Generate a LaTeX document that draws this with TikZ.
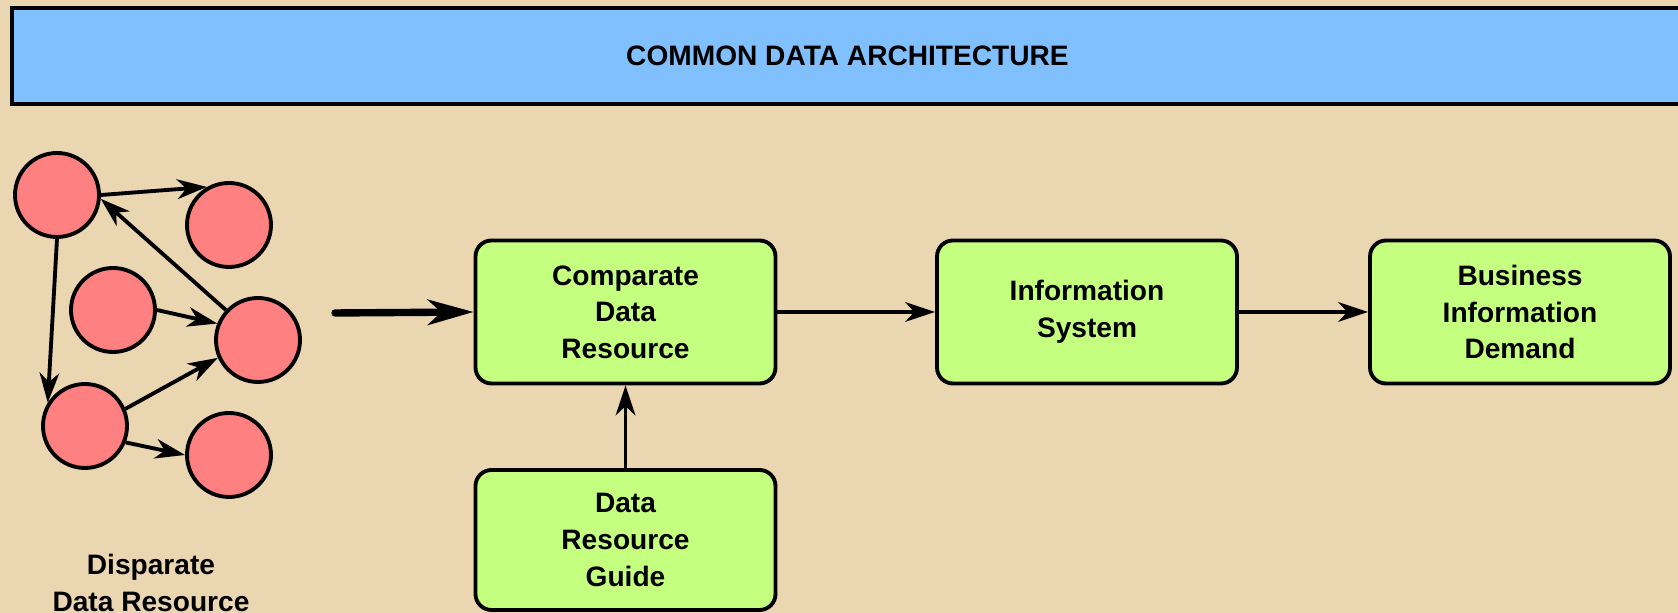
\documentclass[tikz,border=0pt]{standalone}
\usepackage{fontspec}
\setmainfont{Liberation Sans}
\usetikzlibrary{arrows.meta}

\definecolor{paper}{RGB}{234,215,178}
\definecolor{skyband}{RGB}{128,192,255}
\definecolor{rosy}{RGB}{255,128,128}
\definecolor{limey}{RGB}{196,255,128}

\begin{document}
\begin{tikzpicture}[
  txt/.style={font=\fontsize{8}{10.4}\selectfont\bfseries, align=center},
  blob/.style={circle, draw, line width=1.1pt, fill=rosy, minimum size=0.84cm, inner sep=0pt},
  stage/.style={txt, rectangle, rounded corners=0.16cm, draw, line width=1.1pt, fill=limey,
                minimum width=3.0cm, minimum height=1.43cm},
  link/.style={line width=1.1pt, -{Stealth[length=8.5pt,width=5.6pt,inset=2.6pt]}},
  biglink/.style={line width=2.1pt, line cap=round, -{Stealth[length=13pt,width=7.2pt,inset=3.8pt]}}
]
\useasboundingbox (0,0) rectangle (16.78,6.13);
\fill[paper] (0,0) rectangle (16.78,6.13);
\clip (0,0) rectangle (16.78,6.13);

% banner
\node[txt, draw, line width=1.1pt, fill=skyband, minimum width=16.71cm, minimum height=0.96cm]
  (band) at (8.475,5.57) {COMMON DATA ARCHITECTURE};

% disparate data
\node[blob] (c1) at (0.57,4.18) {};
\node[blob] (c2) at (2.29,3.88) {};
\node[blob] (c3) at (1.13,3.03) {};
\node[blob] (c4) at (2.58,2.73) {};
\node[blob] (c5) at (0.85,1.87) {};
\node[blob] (c6) at (2.29,1.58) {};

\draw[link] (c1.east) -- (c2.120);
\draw[link] (c4.137) -- (c1.-5);
\draw[link] (c1.south) -- (c5.148);
\draw[link] (c3.east) -- (c4.158);
\draw[link] (c5.23) -- (c4.204);
\draw[link] (c5.-22) -- (c6.west);

\node[txt] (disp) at (1.51,0.30) {Disparate\\Data Resource};

% stages
\node[stage] (cdr) at (6.255,3.01) {Comparate\\Data\\Resource};
\node[stage, minimum height=1.40cm] (guide) at (6.255,0.73) {Data\\Resource\\Guide};
\node[stage] (infsys) at (10.87,3.01) {Information\\System};
\node[stage] (bid) at (15.20,3.01) {Business\\Information\\Demand};

\coordinate (feed) at (3.35,3.00);
\draw[biglink] (feed) -- (cdr.west);
\draw[link] (cdr.east) -- (infsys.west);
\draw[link] (infsys.east) -- (bid.west);
\draw[link] (guide) -- (cdr);

\end{tikzpicture}
\end{document}
